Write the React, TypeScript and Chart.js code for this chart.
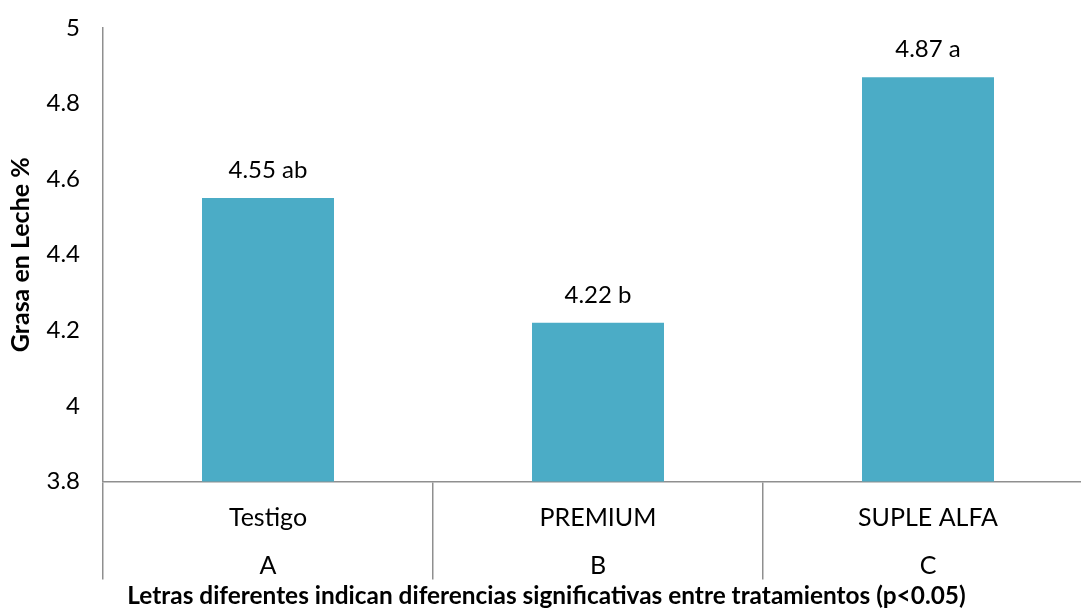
import React, { useEffect, useRef } from "react";
import { Chart, registerables } from "chart.js";

Chart.register(...registerables);

const categories = ["Testigo", "PREMIUM", "SUPLE ALFA"];
const groupLetters = ["A", "B", "C"];
const fatValues = [4.55, 4.22, 4.87];
const valueLabels = ["4.55 ab", "4.22 b", "4.87 a"];
const yTicks = [3.8, 4, 4.2, 4.4, 4.6, 4.8, 5];
const yTitle = "Grasa en Leche %";
const footerText = "Letras diferentes indican diferencias significativas entre tratamientos (p<0.05)";

const FONT = "Lato, 'Open Sans', sans-serif";
const BAR = "#4BACC6";
const AXIS = "#8f8f8f";

const valueLabelPlugin = {
  id: "valueLabels",
  afterDatasetsDraw(chart: any) {
    const ctx = chart.ctx;
    const meta = chart.getDatasetMeta(0);
    ctx.save();
    ctx.font = `24px ${FONT}`;
    ctx.fillStyle = "#000";
    ctx.textAlign = "center";
    ctx.textBaseline = "middle";
    meta.data.forEach((bar: any, i: number) => {
      ctx.fillText(valueLabels[i], bar.x, bar.y - 28);
    });
    ctx.restore();
  },
};

export default function App() {
  const ref = useRef<HTMLCanvasElement | null>(null);
  useEffect(() => {
    if (!ref.current) return;
    const chart = new Chart(ref.current, {
      type: "bar",
      data: {
        labels: categories.map((c, i) => [c, "", groupLetters[i]]),
        datasets: [
          {
            data: fatValues,
            backgroundColor: BAR,
            borderWidth: 0,
            barPercentage: 0.4,
            categoryPercentage: 1,
          },
        ],
      },
      options: {
        animation: false,
        responsive: false,
        devicePixelRatio: 1,
        layout: { padding: { top: 28, right: 7, bottom: 0, left: 0 } },
        plugins: {
          legend: { display: false },
          tooltip: { enabled: false },
          title: {
            display: true,
            position: "bottom",
            text: footerText,
            color: "#000",
            font: { family: FONT, size: 24.4, weight: "bold", lineHeight: 1.2 },
            padding: { top: 0, bottom: 1 },
          },
        },
        scales: {
          x: {
            offset: true,
            grid: {
              display: true,
              offset: true,
              drawOnChartArea: false,
              drawTicks: true,
              tickLength: 98,
              color: AXIS,
              lineWidth: 1.5,
            },
            border: { display: true, color: AXIS, width: 1.5 },
            ticks: {
              color: "#000",
              padding: -74,
              maxRotation: 0,
              autoSkip: false,
              font: { family: FONT, size: 25, lineHeight: 24 / 25 },
            },
            afterFit(scale: any) {
              scale.height = 100.2;
            },
          },
          y: {
            min: 3.8,
            max: 5,
            grid: {
              display: true,
              drawOnChartArea: false,
              drawTicks: true,
              tickLength: 23,
              color: "rgba(0,0,0,0)",
            },
            border: { display: true, color: AXIS, width: 1.5 },
            afterBuildTicks(scale: any) {
              scale.ticks = yTicks.map((v) => ({ value: v }));
            },
            ticks: {
              color: "#000",
              padding: 0,
              font: { family: FONT, size: 24 },
              callback: (v: any) => String(parseFloat(Number(v).toFixed(1))),
            },
            title: {
              display: true,
              text: yTitle,
              color: "#000",
              font: { family: FONT, size: 25, weight: "bold", lineHeight: 1.2 },
              padding: { top: 6, bottom: 0 },
            },
            afterFit(scale: any) {
              scale.width = 103;
            },
          },
        },
      },
      plugins: [valueLabelPlugin],
    });
    return () => chart.destroy();
  }, []);

  return (
    <div
      style={{
        position: "fixed",
        left: 0,
        top: 0,
        width: 1081,
        height: 612,
        overflow: "hidden",
        background: "#fff",
      }}
    >
      <canvas ref={ref} width={1100} height={612} style={{ display: "block" }} />
    </div>
  );
}
